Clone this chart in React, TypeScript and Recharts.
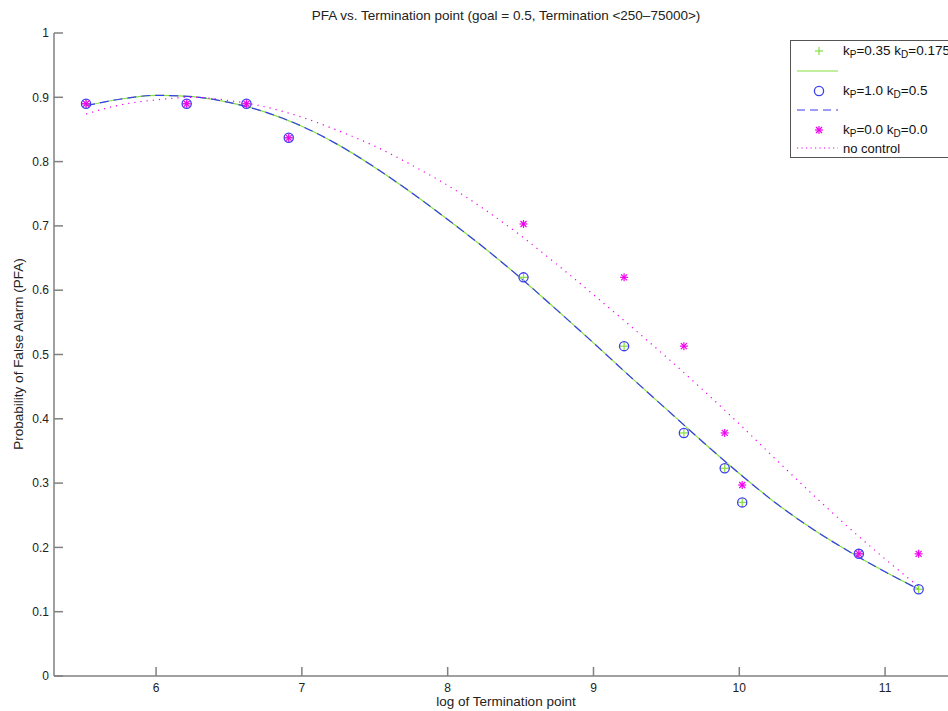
import React from 'react'
import { ComposedChart, Line, Scatter, XAxis, YAxis } from 'recharts'

// log(termination point) for each run
const TERM_X = [5.52, 6.21, 6.62, 6.91, 8.52, 9.21, 9.62, 9.9, 10.02, 10.82, 11.23]
const PFA_KP035 = [0.89, 0.89, 0.89, 0.837, 0.62, 0.513, 0.378, 0.323, 0.27, 0.19, 0.135]
const PFA_KP10 = [0.89, 0.89, 0.89, 0.837, 0.62, 0.513, 0.378, 0.323, 0.27, 0.19, 0.135]
const PFA_KP00 = [0.89, 0.89, 0.89, 0.837, 0.703, 0.62, 0.513, 0.378, 0.297, 0.19, 0.19]

// fitted curves
const CURVE_X = [5.52, 5.75, 6, 6.25, 6.5, 6.75, 7, 7.25, 7.5, 7.75, 8, 8.25, 8.5, 8.75, 9, 9.25, 9.5, 9.75, 10, 10.25, 10.5, 10.75, 11, 11.23]
const FIT_Y = [0.887, 0.897, 0.903, 0.901, 0.892, 0.877, 0.855, 0.826, 0.791, 0.752, 0.71, 0.666, 0.619, 0.569, 0.518, 0.466, 0.415, 0.364, 0.315, 0.269, 0.229, 0.194, 0.162, 0.135]
const NOCTRL_Y = [0.874, 0.888, 0.896, 0.9, 0.895, 0.885, 0.869, 0.848, 0.824, 0.795, 0.763, 0.726, 0.685, 0.64, 0.593, 0.545, 0.496, 0.445, 0.392, 0.337, 0.283, 0.231, 0.182, 0.139]

const X_TICKS = [6, 7, 8, 9, 10, 11]
const Y_TICKS = [0, 0.1, 0.2, 0.3, 0.4, 0.5, 0.6, 0.7, 0.8, 0.9, 1]

const GREEN = '#86e040'
const BLUE = '#3c3cf0'
const MAGENTA = '#f000f0'
const AXIS = '#808080'
const FONT = '"Liberation Sans", Arial, Helvetica, sans-serif'

const pts = (xs: number[], ys: number[]) => xs.map((x, i) => ({ x, y: ys[i] }))

const Plus = ({ cx, cy }: any) => (
  <g stroke={GREEN} strokeWidth={1.2}>
    <line x1={cx - 4} y1={cy} x2={cx + 4} y2={cy} />
    <line x1={cx} y1={cy - 4} x2={cx} y2={cy + 4} />
  </g>
)

const Ring = ({ cx, cy }: any) => (
  <circle cx={cx} cy={cy} r={4.6} fill="none" stroke={BLUE} strokeWidth={1.3} />
)

const Star = ({ cx, cy }: any) => (
  <g stroke={MAGENTA} strokeWidth={1.2}>
    <line x1={cx - 4} y1={cy} x2={cx + 4} y2={cy} />
    <line x1={cx} y1={cy - 4} x2={cx} y2={cy + 4} />
    <line x1={cx - 3} y1={cy - 3} x2={cx + 3} y2={cy + 3} />
    <line x1={cx - 3} y1={cy + 3} x2={cx + 3} y2={cy - 3} />
  </g>
)

const KLabel = ({ y, kp, kd }: { y: number; kp: string; kd: string }) => (
  <text x={53} y={y} fontSize={13.5} fill="#111" fontFamily={FONT}>
    k<tspan dy={3} fontSize={10}>P</tspan>
    <tspan dy={-3}>={kp} k</tspan>
    <tspan dy={3} fontSize={10}>D</tspan>
    <tspan dy={-3}>={kd}</tspan>
  </text>
)

function LegendBox() {
  return (
    <svg width={170} height={119} style={{ position: 'absolute', left: 790, top: 40 }}>
      <rect x={0.5} y={0.5} width={168} height={117} fill="#fff" stroke="#555" />
      <Plus cx={29} cy={11} />
      <KLabel y={15} kp="0.35" kd="0.175" />
      <line x1={7} y1={31} x2={48} y2={31} stroke={GREEN} strokeWidth={1.2} />
      <Ring cx={29} cy={51} />
      <KLabel y={55} kp="1.0" kd="0.5" />
      <line x1={7} y1={70} x2={48} y2={70} stroke={BLUE} strokeWidth={1.2} strokeDasharray="8 5" />
      <Star cx={29} cy={90} />
      <KLabel y={94} kp="0.0" kd="0.0" />
      <line x1={7} y1={108} x2={48} y2={108} stroke={MAGENTA} strokeWidth={1.2} strokeDasharray="1.2 3.3" />
      <text x={53} y={113} fontSize={13} fill="#111" fontFamily={FONT}>no control</text>
    </svg>
  )
}

export default function App() {
  const tick = { fontSize: 12, fill: '#222', fontFamily: FONT }
  return (
    <div style={{ position: 'absolute', left: 0, top: 0, width: 948, height: 711, overflow: 'hidden', background: '#fff' }}>
      <div style={{ position: 'absolute', left: 54, width: 904, top: 8, textAlign: 'center', fontSize: 13.5, fontFamily: FONT, color: '#222' }}>
        PFA vs. Termination point (goal = 0.5, Termination &lt;250–75000&gt;)
      </div>
      <ComposedChart width={1000} height={711} margin={{ top: 33, right: 42, bottom: 0, left: 0 }}>
        <XAxis
          type="number"
          dataKey="x"
          domain={[5.3, 11.5]}
          ticks={X_TICKS}
          allowDataOverflow
          height={35}
          stroke={AXIS}
          strokeWidth={1.5}
          tickSize={-9}
          tickMargin={16}
          tick={tick}
          tickLine={{ stroke: AXIS }}
        />
        <YAxis
          type="number"
          dataKey="y"
          domain={[0, 1]}
          ticks={Y_TICKS}
          width={54}
          stroke={AXIS}
          strokeWidth={1.5}
          tickSize={-9}
          tickMargin={14}
          tick={tick}
          tickLine={{ stroke: AXIS }}
        />
        <Line data={pts(CURVE_X, FIT_Y)} dataKey="y" type="monotone" stroke={GREEN} strokeWidth={1.2} dot={false} isAnimationActive={false} />
        <Line data={pts(CURVE_X, FIT_Y)} dataKey="y" type="monotone" stroke={BLUE} strokeWidth={1.2} strokeDasharray="9 5" dot={false} isAnimationActive={false} />
        <Line data={pts(CURVE_X, NOCTRL_Y)} dataKey="y" type="monotone" stroke={MAGENTA} strokeWidth={1.2} strokeDasharray="1.2 5" dot={false} isAnimationActive={false} />
        <Scatter data={pts(TERM_X, PFA_KP035)} dataKey="y" shape={<Plus />} isAnimationActive={false} />
        <Scatter data={pts(TERM_X, PFA_KP10)} dataKey="y" shape={<Ring />} isAnimationActive={false} />
        <Scatter data={pts(TERM_X, PFA_KP00)} dataKey="y" shape={<Star />} isAnimationActive={false} />
      </ComposedChart>
      <div style={{ position: 'absolute', left: 18, top: 354, transform: 'translate(-50%, -50%) rotate(-90deg)', whiteSpace: 'nowrap', fontSize: 13.5, fontFamily: FONT, color: '#222' }}>
        Probability of False Alarm (PFA)
      </div>
      <div style={{ position: 'absolute', left: 54, width: 904, top: 694, textAlign: 'center', fontSize: 13.5, fontFamily: FONT, color: '#222' }}>
        log of Termination point
      </div>
      <LegendBox />
    </div>
  )
}
